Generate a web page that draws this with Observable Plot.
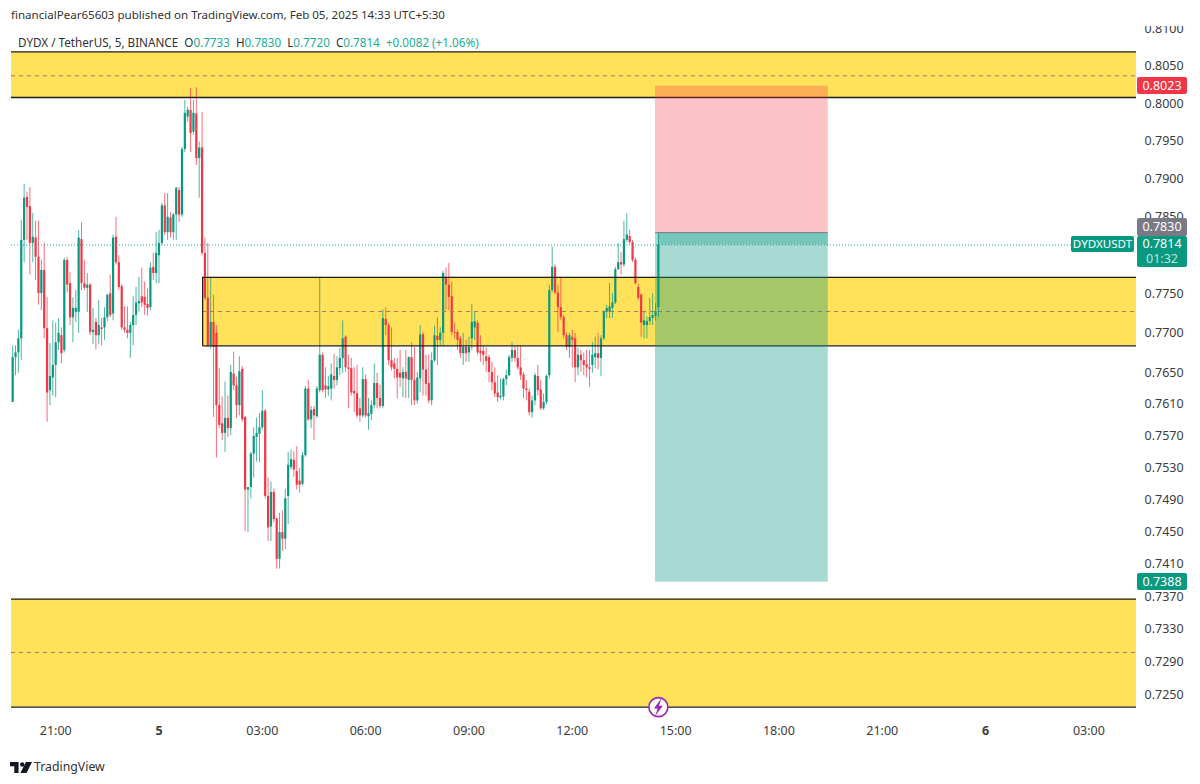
<!DOCTYPE html>
<html><head><meta charset="utf-8">
<script src="https://cdn.jsdelivr.net/npm/d3@7"></script>
<script src="https://cdn.jsdelivr.net/npm/@observablehq/plot@0.6"></script>
<style>
html,body{margin:0;padding:0;background:#fff;width:1200px;height:784px;overflow:hidden;font-family:"Noto Sans",sans-serif;color:#333}
#wrap{position:relative;width:1200px;height:784px}
#head{height:26px;font-size:11.55px;line-height:30px;padding-left:11px;box-sizing:border-box;white-space:pre}
#legend{position:absolute;left:18px;top:35px;font-size:11.68px;line-height:16px;white-space:pre;color:#333}
#legend b{font-weight:400;color:#22ab94}
#foot{position:absolute;left:34px;top:758px;font-size:12.3px;line-height:18px;color:#333}
#logo{position:absolute;left:10px;top:762px}
.badge{position:absolute;color:#fff;font-size:12.5px;text-align:center;border-radius:2px;box-sizing:border-box;white-space:pre}
</style></head><body>
<div id="wrap">
<div id="head">financialPear65603 published on TradingView.com, Feb 05, 2025 14:33 UTC+5:30</div>
<div id="chart"></div>
<div id="legend">DYDX / TetherUS, 5, BINANCE  O<b>0.7733</b>  H<b>0.7830</b>  L<b>0.7720</b>  C<b>0.7814</b>  <b>+0.0082 (+1.06%)</b></div>
<svg id="logo" width="22" height="11" viewBox="0 0 36 18"><path d="M0 0H14V18H7V7H0Z M26 0H36L27 18H17Z" fill="#131722"/><circle cx="20" cy="4" r="3.6" fill="#131722"/></svg>
<div id="foot">TradingView</div>
</div>
<script>
const opens=[.7612,.7669,.7675,.7693,.7820,.7876,.7864,.7816,.7823,.7798,
.7751,.7781,.7706,.7627,.7643,.7659,.7688,.7697,.7678,.7794,
.7764,.7720,.7727,.7727,.7821,.7764,.7758,.7762,.7701,.7714,
.7697,.7707,.7707,.7720,.7751,.7725,.7824,.7791,.7760,.7707,
.7704,.7700,.7710,.7723,.7738,.7747,.7746,.7737,.7733,.7785,
.7777,.7800,.7816,.7865,.7830,.7849,.7830,.7853,.7885,.7853,
.7939,.7982,.7991,.7962,.7986,.7927,.7941,.7803,.7745,.7684,
.7714,.7700,.7608,.7585,.7573,.7592,.7579,.7648,.7633,.7608,
.7654,.7593,.7502,.7505,.7547,.7568,.7572,.7580,.7601,.7494,
.7456,.7499,.7466,.7416,.7449,.7441,.7494,.7530,.7539,.7525,
.7513,.7509,.7545,.7629,.7590,.7603,.7594,.7627,.7672,.7633,
.7628,.7629,.7645,.7640,.7655,.7668,.7695,.7656,.7655,.7626,
.7623,.7604,.7595,.7641,.7594,.7597,.7608,.7636,.7617,.7607,
.7718,.7710,.7665,.7661,.7654,.7649,.7642,.7650,.7640,.7669,
.7640,.7614,.7642,.7698,.7653,.7636,.7614,.7665,.7696,.7691,
.7700,.7772,.7762,.7747,.7701,.7701,.7693,.7674,.7682,.7675,
.7693,.7707,.7713,.7677,.7677,.7670,.7669,.7650,.7637,.7624,
.7618,.7619,.7641,.7646,.7668,.7678,.7668,.7656,.7647,.7629,
.7625,.7599,.7614,.7645,.7628,.7604,.7612,.7646,.7755,.7785,
.7752,.7733,.7720,.7697,.7682,.7695,.7693,.7656,.7672,.7665,
.7660,.7656,.7659,.7669,.7674,.7668,.7693,.7727,.7727,.7732,
.7739,.7782,.7791,.7788,.7820,.7825,.7817,.7794,.7759,.7749,
.7710,.7710,.7715,.7719,.7722,.7733];
const closes=[.7669,.7675,.7693,.7820,.7875,.7863,.7816,.7824,.7798,.7751,
.7781,.7706,.7624,.7645,.7659,.7688,.7700,.7674,.7794,.7762,
.7720,.7732,.7732,.7823,.7764,.7758,.7762,.7701,.7704,.7697,
.7710,.7705,.7720,.7749,.7723,.7823,.7791,.7759,.7707,.7704,
.7700,.7710,.7723,.7739,.7741,.7739,.7736,.7732,.7784,.7777,
.7803,.7816,.7865,.7830,.7850,.7830,.7853,.7888,.7853,.7939,
.7987,.7991,.7960,.7987,.7927,.7941,.7803,.7745,.7684,.7714,
.7682,.7608,.7583,.7573,.7592,.7579,.7650,.7633,.7608,.7651,
.7590,.7502,.7505,.7547,.7569,.7573,.7580,.7601,.7494,.7455,
.7499,.7465,.7416,.7449,.7441,.7491,.7533,.7540,.7527,.7508,
.7508,.7545,.7629,.7590,.7602,.7595,.7629,.7672,.7627,.7628,
.7632,.7647,.7640,.7656,.7668,.7693,.7656,.7654,.7624,.7623,
.7595,.7595,.7641,.7595,.7598,.7608,.7636,.7617,.7607,.7719,
.7710,.7665,.7656,.7654,.7643,.7643,.7650,.7642,.7669,.7640,
.7614,.7643,.7698,.7653,.7635,.7614,.7665,.7697,.7691,.7700,
.7777,.7762,.7746,.7701,.7700,.7691,.7674,.7682,.7674,.7682,
.7714,.7715,.7675,.7674,.7672,.7664,.7650,.7637,.7623,.7618,
.7620,.7641,.7646,.7669,.7678,.7668,.7656,.7646,.7629,.7627,
.7599,.7614,.7646,.7627,.7604,.7612,.7645,.7755,.7785,.7752,
.7733,.7720,.7697,.7682,.7697,.7691,.7656,.7672,.7665,.7659,
.7656,.7654,.7672,.7674,.7668,.7693,.7727,.7732,.7734,.7739,
.7782,.7791,.7788,.7821,.7827,.7817,.7794,.7764,.7745,.7713,
.7716,.7715,.7720,.7723,.7728,.7814];
const highs=[.7684,.7684,.7704,.7846,.7893,.7883,.7889,.7855,.7845,.7845,
.7794,.7816,.7746,.7687,.7716,.7713,.7719,.7707,.7797,.7798,
.7778,.7746,.7755,.7833,.7843,.7794,.7777,.7764,.7732,.7719,
.7742,.7719,.7733,.7750,.7775,.7827,.7850,.7800,.7763,.7734,
.7734,.7714,.7747,.7759,.7772,.7784,.7766,.7757,.7791,.7803,
.7830,.7833,.7868,.7881,.7881,.7856,.7855,.7889,.7889,.7942,
.8004,.7995,.8020,.8004,.8021,.7949,.7988,.7823,.7816,.7772,
.7749,.7710,.7655,.7619,.7638,.7620,.7659,.7676,.7644,.7670,
.7658,.7594,.7505,.7549,.7580,.7592,.7598,.7627,.7603,.7517,
.7512,.7503,.7467,.7473,.7476,.7503,.7549,.7552,.7550,.7556,
.7529,.7549,.7632,.7640,.7607,.7607,.7632,.7772,.7675,.7656,
.7645,.7661,.7673,.7670,.7681,.7716,.7697,.7672,.7668,.7656,
.7659,.7617,.7656,.7647,.7617,.7614,.7661,.7649,.7634,.7730,
.7733,.7713,.7707,.7668,.7668,.7678,.7656,.7678,.7670,.7688,
.7682,.7650,.7710,.7701,.7672,.7672,.7675,.7709,.7720,.7707,
.7780,.7784,.7790,.7766,.7713,.7704,.7696,.7700,.7691,.7695,
.7737,.7727,.7716,.7697,.7684,.7681,.7672,.7663,.7656,.7646,
.7642,.7643,.7653,.7672,.7688,.7684,.7684,.7684,.7650,.7640,
.7629,.7620,.7649,.7659,.7640,.7623,.7647,.7762,.7811,.7788,
.7762,.7771,.7723,.7700,.7700,.7704,.7700,.7681,.7678,.7675,
.7678,.7678,.7688,.7695,.7700,.7697,.7729,.7736,.7764,.7751,
.7785,.7816,.7804,.7845,.7855,.7833,.7820,.7797,.7763,.7751,
.7728,.7721,.7745,.7751,.7738,.7830];
const lows=[.7612,.7646,.7649,.7665,.7791,.7820,.7775,.7791,.7768,.7736,
.7729,.7693,.7587,.7608,.7620,.7618,.7678,.7661,.7675,.7752,
.7710,.7688,.7714,.7700,.7755,.7755,.7727,.7697,.7686,.7679,
.7686,.7684,.7691,.7715,.7720,.7716,.7788,.7755,.7704,.7700,
.7693,.7668,.7684,.7710,.7727,.7733,.7723,.7722,.7729,.7768,
.7764,.7764,.7813,.7826,.7820,.7823,.7820,.7820,.7843,.7850,
.7935,.7975,.7935,.7958,.7918,.7875,.7800,.7742,.7682,.7680,
.7593,.7542,.7579,.7564,.7549,.7568,.7570,.7627,.7592,.7595,
.7587,.7450,.7449,.7491,.7517,.7537,.7536,.7577,.7491,.7438,
.7438,.7461,.7404,.7404,.7426,.7428,.7459,.7527,.7518,.7502,
.7498,.7507,.7543,.7588,.7579,.7564,.7592,.7624,.7624,.7617,
.7620,.7614,.7629,.7633,.7646,.7649,.7650,.7604,.7620,.7599,
.7592,.7587,.7592,.7592,.7577,.7589,.7604,.7604,.7604,.7604,
.7697,.7659,.7652,.7642,.7617,.7631,.7618,.7617,.7617,.7608,
.7608,.7610,.7624,.7620,.7620,.7610,.7608,.7663,.7659,.7684,
.7684,.7729,.7729,.7697,.7693,.7678,.7668,.7659,.7663,.7663,
.7678,.7691,.7672,.7663,.7659,.7650,.7637,.7627,.7618,.7612,
.7615,.7614,.7633,.7645,.7663,.7663,.7653,.7640,.7617,.7614,
.7595,.7592,.7608,.7620,.7602,.7602,.7609,.7642,.7752,.7749,
.7701,.7716,.7693,.7678,.7668,.7656,.7637,.7646,.7650,.7646,
.7643,.7631,.7649,.7655,.7653,.7645,.7691,.7719,.7719,.7719,
.7737,.7781,.7775,.7785,.7817,.7815,.7791,.7762,.7742,.7695,
.7693,.7693,.7710,.7710,.7716,.7720];

const priceTicks=[.81,.805,.8,.795,.79,.785,.775,.77,.765,.761,.757,.753,.749,.745,.741,.737,.733,.729,.725];
const hourTicks=[[4,21],[5,3],[5,6],[5,9],[5,12],[5,15],[5,18],[5,21],[6,3]];
const dayTicks=[5,6];
// price zones: [upper, middle, lower]
const topZone=[.8069,.8037,.8008];
const midZone=[.7772,.7728,.7684];
const lowZone=[.7367,.7302,.7236];
const entry=.7830, stopLoss=.8023, target=.7388, lastPrice=.7814;

const UP="#089981", DOWN="#f23645", YELLOW="#ffe25a", LINE="#1e1e1e", DASH="#b5735f";
const T=(d,h,m=0)=>new Date(Date.UTC(2025,1,d,h,m));
const candles=opens.map((o,i)=>({t:new Date(T(4,19,45).getTime()+i*3e5),open:o,close:closes[i],high:highs[i],low:lows[i]}));
const col=d=>d.close>=d.open?UP:DOWN;
const zoneStart=T(5,1,16), rrStart=T(5,14,25), rrEnd=T(5,19,26), rightEnd=T(6,4,23.4), leftEnd=T(4,19,43.4);
const fullZones=[topZone,lowZone];
const lightning={draw(c,s){const k=Math.sqrt(s)/13;const p=[[2.2,-6],[-3,.9],[-.4,.9],[-2.2,6],[3,-.9],[.4,-.9]];p.forEach((q,i)=>i?c.lineTo(q[0]*k,q[1]*k):c.moveTo(q[0]*k,q[1]*k));c.closePath();}};

const chart=Plot.plot({
  width:1200,height:726,marginLeft:11,marginRight:64,marginTop:0,marginBottom:34,
  style:{fontFamily:'"Noto Sans",sans-serif',fontSize:"12.5px",color:"#3c3c3c",background:"#fff"},
  x:{type:"utc",domain:[leftEnd,rightEnd],label:null},
  y:{type:"log",domain:[.72223,.81031],label:null},
  marks:[
    Plot.rectY(fullZones,{x1:leftEnd,x2:rightEnd,y1:d=>d[0],y2:d=>d[2],fill:YELLOW}),
    Plot.rectY([midZone],{x1:zoneStart,x2:rightEnd,y1:d=>d[0],y2:d=>d[2],fill:YELLOW}),
    Plot.ruleX(candles,{x:"t",y1:"low",y2:"high",stroke:col,strokeWidth:1,strokeOpacity:.72}),
    Plot.ruleX(candles,{x:"t",y1:"open",y2:"close",stroke:col,strokeWidth:2.2}),
    Plot.ruleY(fullZones.flatMap(z=>[z[0],z[2]]),{stroke:LINE,strokeWidth:1.3}),
    Plot.ruleY(fullZones.map(z=>z[1]),{stroke:DASH,strokeWidth:1,strokeDasharray:"4,4"}),
    Plot.ruleY([midZone[0],midZone[2]],{x1:zoneStart,x2:rightEnd,stroke:LINE,strokeWidth:1.3}),
    Plot.ruleY([midZone[1]],{x1:zoneStart,x2:rightEnd,stroke:DASH,strokeWidth:1,strokeDasharray:"4,4"}),
    Plot.ruleX([zoneStart],{y1:midZone[2],y2:midZone[0],stroke:LINE,strokeWidth:1.3}),
    Plot.rectY([0],{x1:rrStart,x2:rrEnd,y1:entry,y2:stopLoss,fill:"#f23645",fillOpacity:.3}),
    Plot.rectY([0],{x1:rrStart,x2:rrEnd,y1:target,y2:entry,fill:"#089981",fillOpacity:.36}),
    Plot.rectY([0],{x1:T(5,14,30),x2:rrEnd,y1:lastPrice,y2:entry,fill:"#089981",fillOpacity:.3}),
    Plot.ruleY([entry],{x1:rrStart,x2:rrEnd,stroke:"#787b86",strokeWidth:1}),
    Plot.ruleY([lastPrice],{stroke:UP,strokeWidth:1,strokeDasharray:"1,2",strokeOpacity:.85}),
    Plot.dot([0],{x:T(5,14,30),y:lowZone[2],r:9.5,fill:"#fff",stroke:"#9c27b0",strokeWidth:1.6}),
    Plot.dot([0],{x:T(5,14,30),y:lowZone[2],r:11,symbol:lightning,fill:"#9c27b0",stroke:"none"}),
    Plot.axisY({anchor:"right",ticks:priceTicks,tickSize:0,tickPadding:8,tickFormat:d=>d.toFixed(4),label:null,textAnchor:"start"}),
    Plot.axisX({ticks:hourTicks.map(d=>T(d[0],d[1])),tickSize:0,tickPadding:8,tickFormat:d=>d3.utcFormat("%H:%M")(d),label:null}),
    Plot.axisX({ticks:dayTicks.map(d=>T(d,0)),tickSize:0,tickPadding:8,tickFormat:d=>String(d.getUTCDate()),fontWeight:"bold",label:null})
  ]
});
document.getElementById("chart").appendChild(chart);
chart.style.display="block";

const yPage=v=>chart.scale("y").apply(v)+26;
function badge(html,left,width,v,up,down,bg,extra){
  const b=document.createElement("div");b.className="badge";b.innerHTML=html;
  const c=yPage(v);
  b.style.cssText=`left:${left}px;width:${width}px;top:${c-up}px;height:${up+down}px;line-height:${up+down}px;background:${bg};`+(extra||"");
  document.getElementById("wrap").appendChild(b);
  return b;
}
badge("0.8023",1137,50,stopLoss,9,8,"#f23645");
badge("0.7830",1137,50,entry,14,3.6,"#787b86");
badge("DYDXUSDT",1071,63,lastPrice,8.5,7.5,"#089981","font-size:11.6px;");
badge('0.7814\n<span style="opacity:.72">01:32</span>',1137,50,lastPrice,8.5,22.5,"#089981","line-height:14.5px;padding-top:1.5px;");
badge("0.7388",1137,50,target,8.5,8.5,"#089981");
</script>
</body></html>
